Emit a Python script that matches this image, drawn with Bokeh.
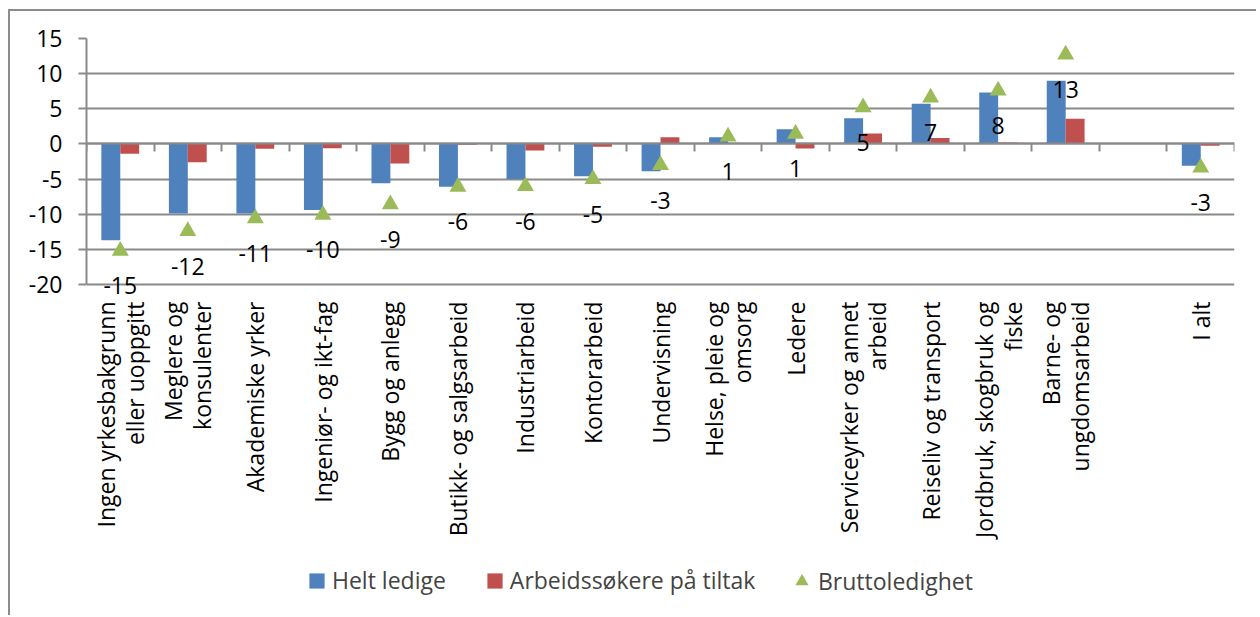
import math
from bokeh.plotting import figure
from bokeh.models import (ColumnDataSource, Range1d, LinearAxis, FixedTicker,
                          LabelSet, Legend, LegendItem, CustomJSTickFormatter)
from bokeh.transform import dodge
from bokeh.core.properties import value
from bokeh.embed import file_html
from bokeh.resources import INLINE

# ---- data -------------------------------------------------------------
categories = [
    "Ingen yrkesbakgrunn\neller uoppgitt",
    "Meglere og\nkonsulenter",
    "Akademiske yrker",
    "Ingeniør- og ikt-fag",
    "Bygg og anlegg",
    "Butikk- og salgsarbeid",
    "Industriarbeid",
    "Kontorarbeid",
    "Undervisning",
    "Helse, pleie og\nomsorg",
    "Ledere",
    "Serviceyrker og annet\narbeid",
    "Reiseliv og transport",
    "Jordbruk, skogbruk og\nfiske",
    "Barne- og\nungdomsarbeid",
    "",
    "I alt",
]
helt_ledige = [-13.7, -9.9, -9.9, -9.4, -5.6, -6.1, -5.0, -4.6, -3.9, 0.95,
               2.1, 3.65, 5.7, 7.3, 9.0, None, -3.1]
tiltak = [-1.4, -2.6, -0.7, -0.6, -2.8, -0.1, -0.95, -0.4, 0.95, 0.05,
          -0.65, 1.5, 0.85, 0.2, 3.6, None, -0.25]
brutto = [-15.2, -12.4, -10.6, -10.1, -8.6, -6.1, -6.0, -5.0, -3.0, 1.05,
          1.43, 5.2, 6.6, 7.6, 12.7, None, -3.35]
y_ticks = [-20, -15, -10, -5, 0, 5, 10, 15]

series_names = ["Helt ledige", "Arbeidssøkere på tiltak", "Bruttoledighet"]

# ---- styling / layout --------------------------------------------------
FONT = "Open Sans"
FS = "23px"
GRID = "#8a8a8a"
BLUE, RED, GREEN = "#4F81BD", "#C0504D", "#9BBB59"
BW = 0.28

n = len(categories)
centers = [i + 0.5 for i in range(n)]
idx = [i for i in range(n) if helt_ledige[i] is not None]

src = ColumnDataSource(dict(
    x=[centers[i] for i in idx],
    helt=[helt_ledige[i] for i in idx],
    tiltak=[tiltak[i] for i in idx],
    brutto=[brutto[i] for i in idx],
    label=[f"{round(brutto[i]):d}" for i in idx],
))

W, H = 1248, 606
MB_L, MB_R, MB_T, MB_B = 76, 24, 27, 4
y_max, y_min_axis = max(y_ticks), min(y_ticks)
px_per_unit = 246 / (y_max - y_min_axis)
frame_h = H - MB_T - MB_B
y_lo = y_max - frame_h / px_per_unit

p = figure(width=W, height=H, x_range=Range1d(0, n), y_range=Range1d(y_lo, y_max),
           output_backend="svg", toolbar_location=None, x_axis_location=None)
p.min_border_left = MB_L
p.min_border_right = MB_R
p.min_border_top = MB_T
p.min_border_bottom = MB_B
p.margin = (9, 0, 0, 8)
p.outline_line_color = None
p.background_fill_color = "white"
p.border_fill_color = "white"
p.styles = {"border-left": "2px solid #8c8c8c", "border-top": "2px solid #8c8c8c"}

# y axis
yt = FixedTicker(ticks=y_ticks)
p.yaxis.ticker = yt
p.yaxis.bounds = (y_min_axis, y_max)
p.yaxis.major_label_overrides = {t: str(t) for t in y_ticks}
p.yaxis.axis_line_color = GRID
p.yaxis.axis_line_width = 2
p.yaxis.major_tick_line_color = GRID
p.yaxis.major_tick_line_width = 2
p.yaxis.major_tick_out = 8
p.yaxis.major_tick_in = 0
p.yaxis.minor_tick_line_color = None
p.yaxis.major_label_standoff = 16
p.yaxis.major_label_text_font = FONT
p.yaxis.major_label_text_font_size = FS
p.yaxis.major_label_text_color = "black"
p.ygrid.ticker = yt
p.ygrid.grid_line_color = GRID
p.ygrid.grid_line_width = 2
for g in p.xgrid:
    g.visible = False

# category label axis, hung from the bottom of the value axis
label_ticks = [centers[i] for i in range(n) if categories[i]]
lab_axis = LinearAxis(
    fixed_location=y_min_axis,
    ticker=FixedTicker(ticks=label_ticks),
    major_label_overrides={centers[i]: categories[i] for i in range(n) if categories[i]},
    axis_line_color=None, major_tick_line_color=None, minor_tick_line_color=None,
    major_tick_out=0, major_tick_in=0,
    major_label_orientation=math.pi / 2, major_label_standoff=17,
    major_label_text_font=FONT, major_label_text_font_size=FS,
    major_label_text_color="black", major_label_text_line_height=0.9,
)
p.add_layout(lab_axis, "below")

# axis line at zero with category boundary ticks
zero_axis = LinearAxis(
    fixed_location=0, ticker=FixedTicker(ticks=list(range(n + 1))),
    formatter=CustomJSTickFormatter(code="return ''"),
    axis_line_color=GRID, axis_line_width=2,
    major_tick_line_color=GRID, major_tick_line_width=2,
    major_tick_out=8, major_tick_in=0, minor_tick_line_color=None,
    major_label_standoff=0,
)
p.add_layout(zero_axis, "below")

# glyphs
r1 = p.vbar(x=dodge("x", -BW / 2), top="helt", bottom=0, width=BW,
            fill_color=BLUE, line_color=None, source=src)
r2 = p.vbar(x=dodge("x", BW / 2), top="tiltak", bottom=0, width=BW,
            fill_color=RED, line_color=None, source=src)
r3 = p.scatter(x="x", y="brutto", marker="triangle", size=17,
               fill_color=GREEN, line_color=None, source=src)

labels = LabelSet(x="x", y="brutto", text="label", source=src, y_offset=-35,
                  text_align="center", text_baseline="middle",
                  text_font=value(FONT), text_font_size=value(FS), text_color="black")
p.add_layout(labels)

leg1 = Legend(items=[LegendItem(label=series_names[0], renderers=[r1]),
                     LegendItem(label=series_names[1], renderers=[r2])],
              location=(221, 17), orientation="horizontal",
              glyph_width=19, glyph_height=19, label_standoff=6, spacing=39,
              padding=0, margin=0, border_line_color=None, background_fill_alpha=0,
              label_text_font=FONT, label_text_font_size=FS, label_height=30)
leg2 = Legend(items=[LegendItem(label=series_names[2], renderers=[r3])],
              location=(699, 13), orientation="horizontal",
              glyph_width=33, glyph_height=38, label_standoff=0, spacing=0,
              padding=0, margin=0, border_line_color=None, background_fill_alpha=0,
              label_text_font=FONT, label_text_font_size=FS, label_height=30)
p.add_layout(leg1, "center")
p.add_layout(leg2, "center")

open("out.html", "w").write(file_html(p, INLINE))
